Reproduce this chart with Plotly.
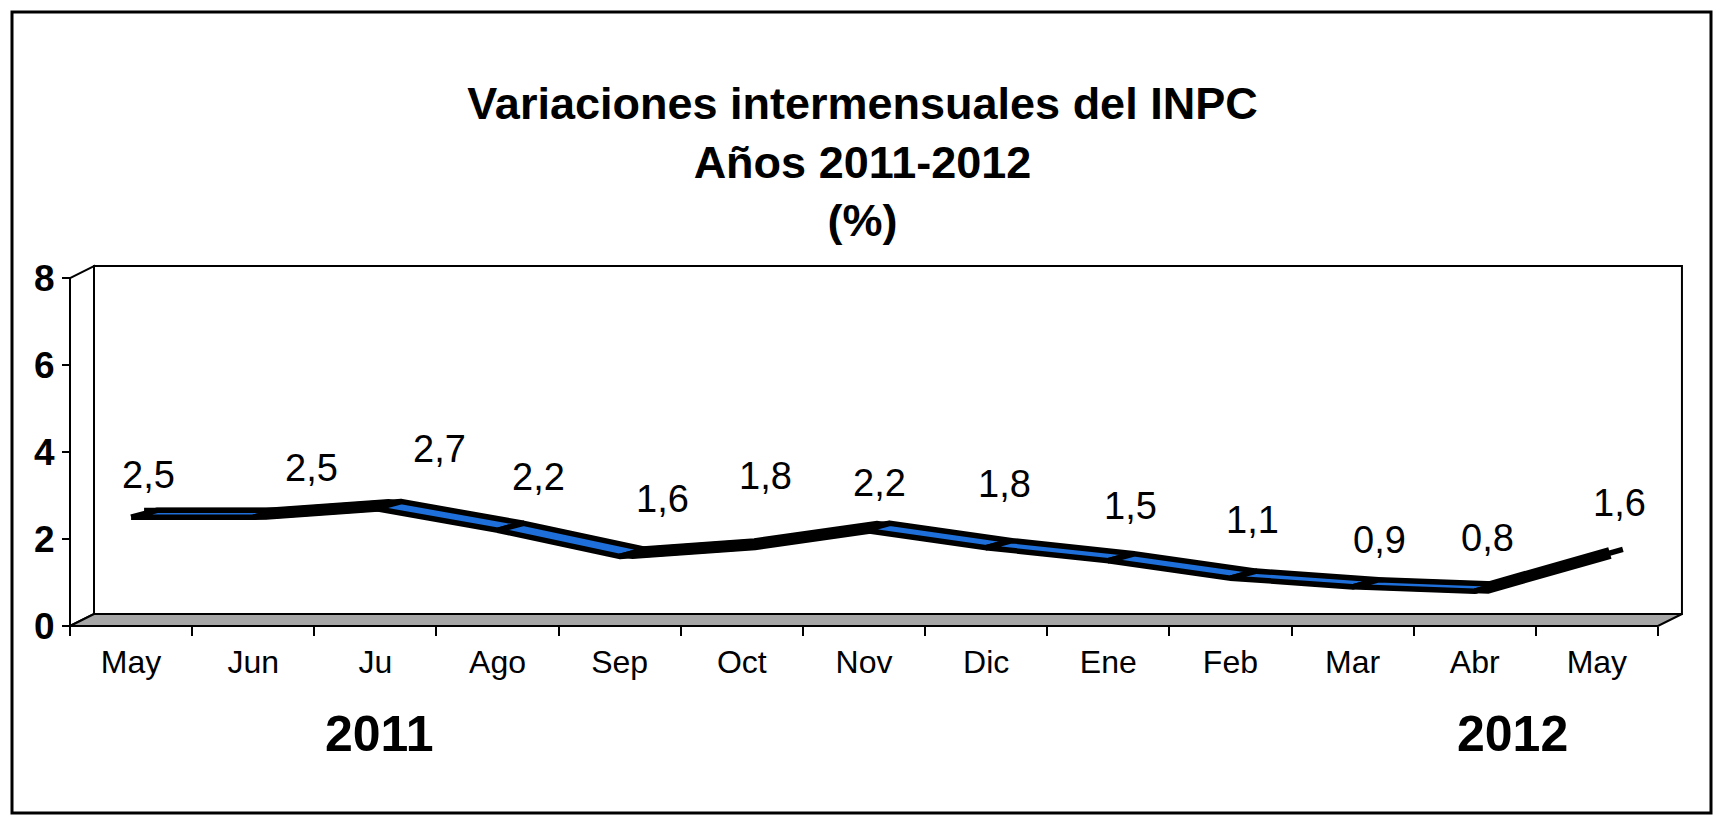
"""
Variaciones intermensuales del INPC, 2011-2012
"""

import plotly.graph_objects as go

# data
months = ['May', 'Jun', 'Ju', 'Ago', 'Sep', 'Oct', 'Nov',
          'Dic', 'Ene', 'Feb', 'Mar', 'Abr', 'May']
values = [2.5, 2.5, 2.7, 2.2, 1.6, 1.8, 2.2, 1.8, 1.5, 1.1, 0.9, 0.8, 1.6]
years = ['2011', '2012']
y_ticks = [0, 2, 4, 6, 8]

# hand placed label offsets in pixels (from the value point)
label_dx = [17, 58, 64, 41, 43, 24, 16, 18, 22, 22, 27, 13, 23]
label_dy = [42, 49, 60, 53, 57, 72, 47, 64, 55, 58, 47, 53, 53]

FONT = 'Liberation Sans, Arial, sans-serif'
BLUE = '#1e6fd9'
GREY = '#a6a6a6'
W, H = 1725, 825

# page geometry (pixels)
FRONT_LEFT = 70      # x pixel of the front left corner
ZERO_Y = 626         # y pixel of value 0 on the front plane
UX = 122.15          # pixels per category
UY = 43.5            # pixels per unit of value
PLOT_L, PLOT_R, PLOT_T, PLOT_B = 56, 1690, 258, 640

# 3d depth of the walls and of the ribbon, in data units
WALL_DX, WALL_DY = 24 / UX, 12 / UY
RIB_DX, RIB_DY = 26 / UX, 7 / UY

n = len(values)
x_lo = -0.5 - (FRONT_LEFT - PLOT_L) / UX
x_hi = -0.5 + (PLOT_R - FRONT_LEFT) / UX
y_lo = -(PLOT_B - ZERO_Y) / UY
y_hi = (ZERO_Y - PLOT_T) / UY
y_top = y_ticks[-1]


def px_x(px):
    "pixel x to paper"
    return (px - PLOT_L) / (PLOT_R - PLOT_L)


def px_y(py):
    "pixel y to paper"
    return (PLOT_B - py) / (PLOT_B - PLOT_T)


fig = go.Figure()

# dark body of the ribbon, half way into the depth
fig.add_trace(go.Scatter(
    x=[i + RIB_DX / 2 for i in range(n)],
    y=[v + RIB_DY / 2 for v in values],
    mode='lines', line=dict(color='black', width=12),
    hoverinfo='skip', showlegend=False
))

# ribbon top face, one per segment
for i in range(n - 1):
    xs = [i, i + 1, i + 1 + RIB_DX, i + RIB_DX, i]
    ys = [values[i], values[i + 1], values[i + 1] + RIB_DY,
          values[i] + RIB_DY, values[i]]
    fig.add_trace(go.Scatter(
        x=xs, y=ys, mode='lines', fill='toself', fillcolor=BLUE,
        line=dict(color='black', width=5.5),
        hoverinfo='skip', showlegend=False
    ))

# walls and floor
left, right = -0.5, n - 0.5
shapes = [
    dict(type='rect', xref='x', yref='y', layer='below',
         x0=left + WALL_DX, x1=right + WALL_DX, y0=WALL_DY, y1=y_top + WALL_DY,
         line=dict(color='black', width=2), fillcolor='white'),
    dict(type='path', xref='x', yref='y', layer='below',
         path='M {0},0 L {1},{2} L {1},{3} L {0},{4} Z'.format(
             left, left + WALL_DX, WALL_DY, y_top + WALL_DY, y_top),
         line=dict(color='black', width=2), fillcolor='white'),
    dict(type='path', xref='x', yref='y', layer='below',
         path='M {0},0 L {1},0 L {2},{4} L {3},{4} Z'.format(
             left, right, right + WALL_DX, left + WALL_DX, WALL_DY),
         line=dict(color='black', width=2), fillcolor=GREY),
    # outer frame
    dict(type='rect', xref='paper', yref='paper',
         x0=px_x(12), x1=px_x(1711), y0=px_y(813), y1=px_y(12),
         line=dict(color='black', width=3)),
]

annotations = []
for i, val in enumerate(values):
    annotations.append(dict(
        x=i, y=val, xref='x', yref='y', showarrow=False,
        text='{:.1f}'.format(val).replace('.', ','),
        xshift=label_dx[i], yshift=label_dy[i],
        font=dict(family=FONT, size=38, color='black')
    ))
for year, px in zip(years, [379, 1512]):
    annotations.append(dict(
        x=px_x(px), y=px_y(734), xref='paper', yref='paper',
        xanchor='center', yanchor='middle',
        showarrow=False, text='<b>' + year + '</b>',
        font=dict(family=FONT, size=50, color='black')
    ))

fig.update_layout(
    width=W, height=H,
    margin=dict(l=PLOT_L, r=W - PLOT_R, t=PLOT_T, b=H - PLOT_B),
    paper_bgcolor='white', plot_bgcolor='white',
    title=dict(
        text='<b>Variaciones intermensuales del INPC<br>Años 2011-2012<br>(%)</b>',
        x=0.5, xref='container', xanchor='center',
        y=1 - 119 / H, yref='container', yanchor='top',
        font=dict(family=FONT, size=45, color='black')
    ),
    xaxis=dict(
        range=[x_lo, x_hi], anchor='free', position=px_y(ZERO_Y),
        tickvals=list(range(n)), ticktext=months, ticks='',
        ticklabelstandoff=14,
        showgrid=False, zeroline=False, showline=False,
        tickfont=dict(family=FONT, size=32, color='black'),
        minor=dict(ticks='outside', ticklen=9, tickwidth=2,
                   tickcolor='black', tick0=-0.5, dtick=1, showgrid=False)
    ),
    yaxis=dict(
        range=[y_lo, y_hi], anchor='free', position=px_x(FRONT_LEFT),
        tickvals=y_ticks, ticks='outside', ticklen=8, tickwidth=2,
        tickcolor='black', showgrid=False, zeroline=False, showline=False,
        tickfont=dict(family=FONT, size=37, color='black', weight='bold')
    ),
    shapes=shapes,
    annotations=annotations
)

# the page body has a default margin, drop it so the chart sits at 0,0
fig.write_html('out.html', config={'displayModeBar': False},
               post_script="document.body.style.margin = '0';")
